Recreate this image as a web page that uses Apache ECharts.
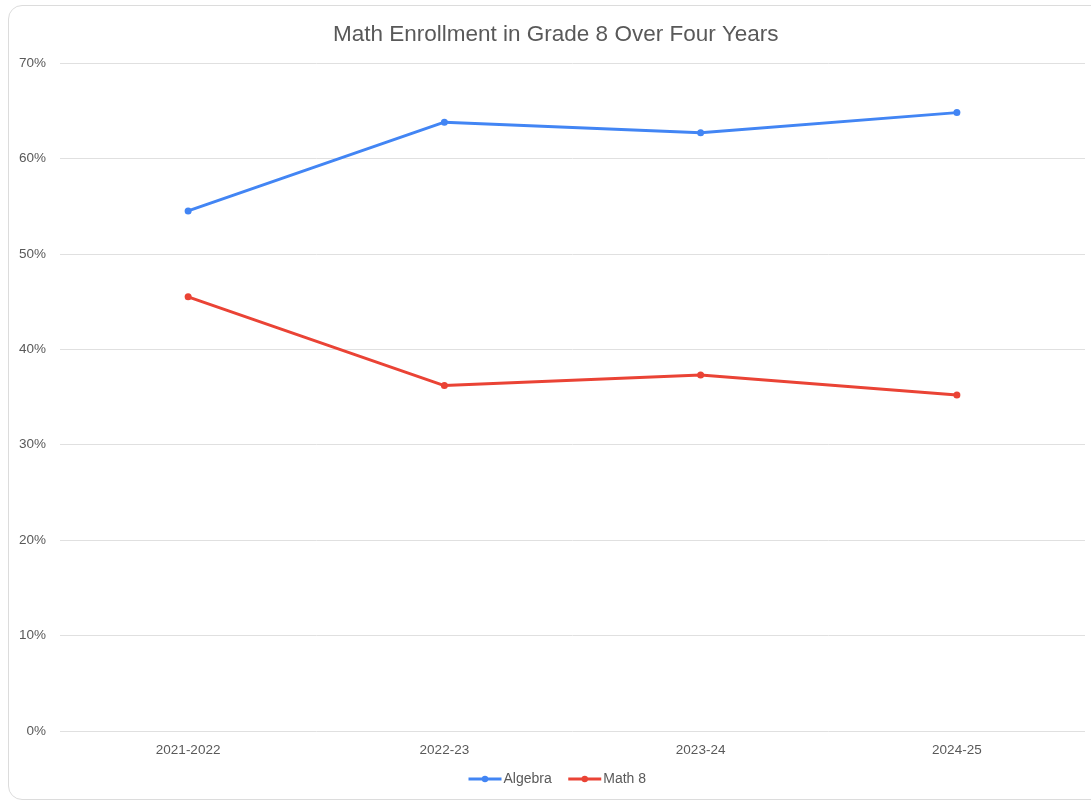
<!DOCTYPE html>
<html>
<head>
<meta charset="utf-8">
<script src="https://cdn.jsdelivr.net/npm/echarts@6/dist/echarts.min.js"></script>
<style>
  html, body { margin: 0; padding: 0; background: #fff; overflow: hidden; }
  .frame {
    position: absolute; left: 8px; top: 5px; width: 1110px; height: 795px;
    border: 1px solid #dcdcdc; border-radius: 14px; box-sizing: border-box;
  }
  #chart { position: absolute; left: 0; top: 0; width: 1091px; height: 803px; }
</style>
</head>
<body>
<div class="frame"></div>
<div id="chart"></div>
<script>
// school years on the x axis
const years = ['2021-2022', '2022-23', '2023-24', '2024-25'];
// share of grade 8 students, percent
const algebra = [54.5, 63.8, 62.7, 64.8];
const math8 = [45.5, 36.2, 37.3, 35.2];

const font = 'Arial, "Liberation Sans", sans-serif';
const chart = echarts.init(document.getElementById('chart'));
chart.setOption({
  // the original chart is a bit wider than the crop, so title and legend sit right of centre
  title: {
    text: 'Math Enrollment in Grade 8 Over Four Years',
    left: 328,
    top: 18,
    textStyle: { color: '#595959', fontWeight: 'normal', fontSize: 22.5, fontFamily: font }
  },
  color: ['#4285F4', '#EA4335'],
  legend: {
    bottom: 12,
    left: 462,
    itemWidth: 33,
    itemHeight: 8,
    itemGap: 15,
    lineStyle: { width: 3 },
    textStyle: { color: '#595959', fontSize: 14, fontFamily: font, padding: [0, 0, 0, -3] },
    data: ['Algebra', 'Math 8']
  },
  grid: { left: 60, right: 6, top: 63, bottom: 72, containLabel: false },
  xAxis: {
    type: 'category',
    data: years,
    axisLine: { show: false },
    axisTick: { show: false },
    axisLabel: { color: '#595959', fontSize: 13.5, margin: 12, fontFamily: font }
  },
  yAxis: {
    type: 'value',
    min: 0,
    max: 70,
    interval: 10,
    axisLabel: { formatter: '{value}%', color: '#595959', fontSize: 13.5, margin: 14, fontFamily: font },
    splitLine: { lineStyle: { color: '#e0e0e0', width: 1 } }
  },
  series: [
    {
      name: 'Algebra', type: 'line', data: algebra,
      symbol: 'circle', symbolSize: 7,
      lineStyle: { width: 3 }
    },
    {
      name: 'Math 8', type: 'line', data: math8,
      symbol: 'circle', symbolSize: 7,
      lineStyle: { width: 3 }
    }
  ]
});
</script>
</body>
</html>
